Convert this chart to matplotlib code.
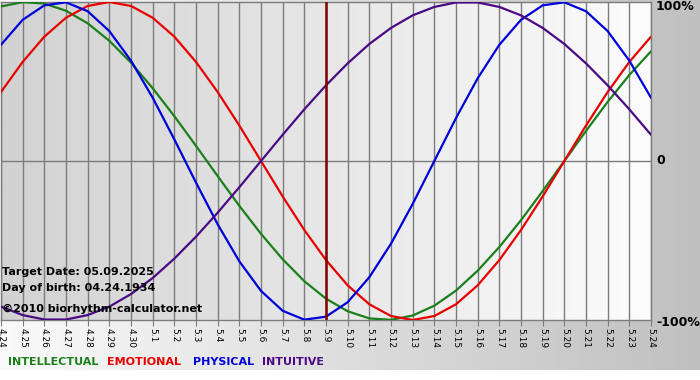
import numpy as np
import matplotlib
matplotlib.use('Agg')
import matplotlib.pyplot as plt
from matplotlib.colors import LinearSegmentedColormap

# days shown on the x axis
day_labels = ['4.24', '4.25', '4.26', '4.27', '4.28', '4.29', '4.30',
              '5.1', '5.2', '5.3', '5.4', '5.5', '5.6', '5.7', '5.8', '5.9',
              '5.10', '5.11', '5.12', '5.13', '5.14', '5.15', '5.16', '5.17',
              '5.18', '5.19', '5.20', '5.21', '5.22', '5.23', '5.24']

# values, -1 .. 1
physical = [0.731, 0.888, 0.979, 0.998, 0.942, 0.817, 0.631, 0.398, 0.136, -0.136,
            -0.398, -0.631, -0.817, -0.942, -0.998, -0.979, -0.888, -0.731, -0.520, -0.270,
            0.0, 0.270, 0.520, 0.731, 0.888, 0.979, 0.998, 0.942, 0.817, 0.631, 0.398]
emotional = [0.434, 0.623, 0.782, 0.901, 0.975, 1.0, 0.975, 0.901, 0.782, 0.623,
             0.434, 0.223, 0.0, -0.223, -0.434, -0.623, -0.782, -0.901, -0.975, -1.0,
             -0.975, -0.901, -0.782, -0.623, -0.434, -0.223, 0.0, 0.223, 0.434, 0.623, 0.782]
intellectual = [0.972, 0.999, 0.990, 0.945, 0.866, 0.756, 0.618, 0.458, 0.282, 0.095,
                -0.095, -0.282, -0.458, -0.618, -0.756, -0.866, -0.945, -0.990, -0.999, -0.972,
                -0.910, -0.815, -0.690, -0.541, -0.372, -0.189, 0.0, 0.189, 0.372, 0.541, 0.690]
intuitive = [-0.916, -0.969, -0.997, -0.997, -0.969, -0.916, -0.837, -0.736, -0.614, -0.476,
             -0.325, -0.165, 0.0, 0.165, 0.325, 0.476, 0.614, 0.736, 0.837, 0.916,
             0.969, 0.997, 0.997, 0.969, 0.916, 0.837, 0.736, 0.614, 0.476, 0.325, 0.165]
target_day = '5.9'

c_int = '#1b801b'
c_emo = '#e80000'
c_phy = '#0000d8'
c_itu = '#4a0a84'
grid_c = '#7c7c7c'

W, H = 700, 380
fig = plt.figure(figsize=(W / 100, H / 100), dpi=100)
fig.patch.set_facecolor('white')

# outer grey gradient (bottom strip + right panel)
bg = fig.add_axes([0, 10 / H, 1, 370 / H])
bg.imshow(np.linspace(0, 1, 256).reshape(1, -1), aspect='auto',
          cmap=LinearSegmentedColormap.from_list('o', ['#fafafa', '#c0c0c0']),
          extent=[0, 1, 0, 1])
bg.set_axis_off()

x = np.arange(len(day_labels))
ax = fig.add_axes([1 / W, 1 - 320 / H, 650 / W, 318 / H])
ax.imshow(np.linspace(0, 1, 256).reshape(1, -1), aspect='auto',
          cmap=LinearSegmentedColormap.from_list('p', ['#d2d2d2', '#fcfcfc']),
          extent=[0, x[-1], -1.0, 1.0], zorder=0)
ax.set_xlim(0, x[-1])
ax.set_ylim(-1.0, 1.0)

for xi in x:
    ax.axvline(xi, color=grid_c, lw=1, zorder=1)
ax.axhline(0, color=grid_c, lw=1, zorder=1)

kw = dict(lw=1.6, zorder=3, solid_joinstyle='round', solid_capstyle='round')
ax.plot(x, intellectual, color=c_int, **kw)
ax.plot(x, emotional, color=c_emo, **kw)
ax.plot(x, physical, color=c_phy, **kw)
ax.plot(x, intuitive, color=c_itu, **kw)
ax.axvline(day_labels.index(target_day), color='#800000', lw=1.8, zorder=4)

ax.set_xticks(x)
ax.set_xticklabels(day_labels, rotation=270, fontsize=6.5, family='DejaVu Sans')
ax.tick_params(axis='x', length=4, color=grid_c, pad=2)
ax.set_yticks([])
for s in ax.spines.values():
    s.set_color(grid_c)
    s.set_linewidth(1)

ax.text(0.05, -0.70, 'Target Date: 05.09.2025', fontsize=8, fontweight='bold', va='center', zorder=5)
ax.text(0.05, -0.80, 'Day of birth: 04.24.1934', fontsize=8, fontweight='bold', va='center', zorder=5)
ax.text(0.05, -0.93, '\u00a92010 biorhythm-calculator.net', fontsize=8, fontweight='bold', va='center', zorder=5)

# right side labels
fig.text(656 / W, 1 - 7 / H, '100%', fontsize=9, fontweight='bold', va='center')
fig.text(656 / W, 1 - 161 / H, '0', fontsize=9, fontweight='bold', va='center')
fig.text(656 / W, 1 - 322 / H, '-100%', fontsize=9, fontweight='bold', va='center')

# legend
for xp, name, col in [(8, 'INTELLECTUAL', c_int), (107, 'EMOTIONAL', c_emo),
                      (193, 'PHYSICAL', c_phy), (262, 'INTUITIVE', c_itu)]:
    fig.text(xp / W, 1 - 362 / H, name, color=col, fontsize=8, fontweight='bold', va='center')

fig.savefig('out.png', dpi=100)
